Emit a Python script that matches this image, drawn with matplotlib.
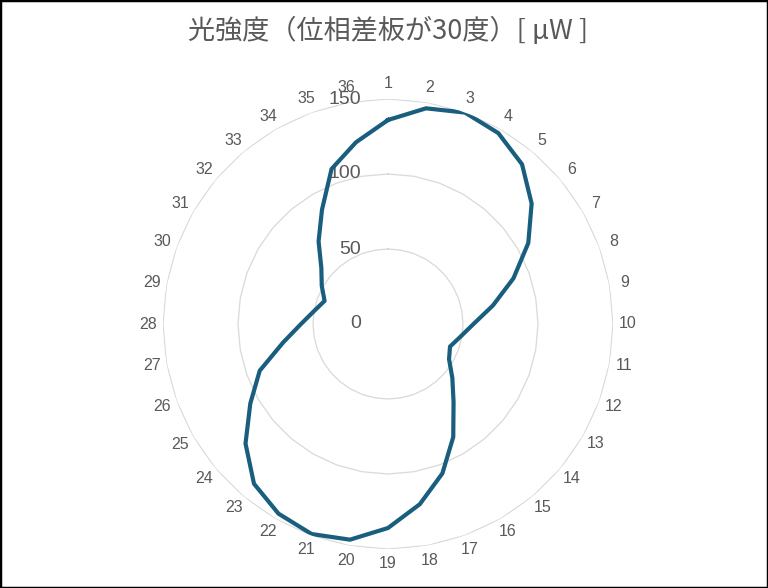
"""Radar chart: light intensity with the retarder plate at 30 degrees."""
import numpy as np
import matplotlib
matplotlib.use("Agg")
import matplotlib.pyplot as plt
from matplotlib.patches import Rectangle
from matplotlib.transforms import offset_copy

categories = [str(i) for i in range(1, 37)]
intensity = [136, 146, 150, 147, 139, 125, 108, 89, 71, 57, 49, 44,
             47, 56, 68, 87, 106, 122, 136, 146, 149, 146, 139, 124,
             106, 91, 71, 58, 50, 45, 51, 58, 72, 88, 110, 123]
ring_values = [50, 100, 150]
ring_labels = ["0", "50", "100", "150"]
title = "光強度（位相差板が30度）[ µW ]"

LINE = "#195E7E"
GRID = "#D9D9D9"
TEXT = "#595959"

fig = plt.figure(figsize=(7.68, 5.88), dpi=100)
ax = fig.add_axes([163 / 768, 39 / 588, 450 / 768, 450 / 588], projection="polar")
ax.set_theta_zero_location("N")
ax.set_theta_direction(-1)
ax.set_ylim(0, 150)
ax.grid(False)
ax.spines["polar"].set_visible(False)
ax.set_xticks([])
ax.set_yticks([])

n = len(categories)
theta = np.linspace(0, 2 * np.pi, n, endpoint=False)
theta_closed = np.append(theta, theta[0])

# polygon gridlines like Excel's radar chart
for r in ring_values:
    ax.plot(theta_closed, [r] * (n + 1), color=GRID, lw=0.9, zorder=1)

vals = np.append(intensity, intensity[0])
ax.plot(theta_closed, vals, color=LINE, lw=3.0, solid_joinstyle="round", zorder=3)

# category labels outside the outer ring
for t, lab in zip(theta, categories):
    ax.text(t, 160, lab, ha="center", va="center", fontsize=11.5, color=TEXT,
            family=["Liberation Sans", "DejaVu Sans"])

# value labels, right-aligned just left of the vertical axis
trans = offset_copy(ax.transData, fig=fig, x=-27, y=0, units="dots")
for r, lab in zip([0] + ring_values, ring_labels):
    ax.text(0, r, lab, ha="right", va="center", fontsize=14, color=TEXT,
            transform=trans, family=["Liberation Sans", "DejaVu Sans"], zorder=2)

fig.text(0.505, 0.947, title, ha="center", va="center", fontsize=19.5, color=TEXT,
         family=["Noto Sans CJK JP", "DejaVu Sans"])

fig.patches.append(Rectangle((0, 0), 1, 1, transform=fig.transFigure, fill=False,
                             edgecolor="black", lw=2.5))

fig.savefig("out.png", dpi=100)
